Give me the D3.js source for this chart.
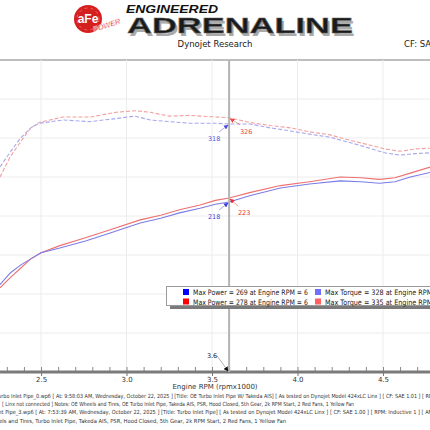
<!DOCTYPE html>
<html>
<head>
<meta charset="utf-8">
<script src="https://cdn.jsdelivr.net/npm/d3@7"></script>
<style>
  body { margin: 0; background: #fff; }
  svg { display: block; font-family: "DejaVu Sans", Verdana, sans-serif; }
</style>
</head>
<body>
<div id="chart"></div>
<script>
// ---- data ----
const powerRpm = [2.26, 2.32, 2.38, 2.44, 2.50, 2.61, 2.76, 2.90, 3.08, 3.20, 3.31, 3.43, 3.52, 3.60, 3.72, 3.90, 4.07, 4.25, 4.37, 4.48, 4.57, 4.66, 4.78];
const powerRed  = [108, 121, 133, 145, 153, 162, 172, 182, 195, 201, 208, 214, 220, 223, 230, 239, 244, 250, 249, 247, 249, 255, 263];
const powerBlue = [112, 127, 137, 145, 153, 159, 168, 178, 191, 197, 204, 210, 215, 218, 226, 236, 241, 245, 244, 242, 244, 250, 256];

const torqueRpm = [2.26, 2.32, 2.38, 2.44, 2.49, 2.63, 2.79, 2.94, 3.05, 3.14, 3.25, 3.37, 3.52, 3.60, 3.72, 3.84, 3.96, 4.07, 4.19, 4.31, 4.42, 4.51, 4.60, 4.69, 4.78];
const torqueRed  = [250, 276, 295, 313, 320, 327, 327, 333, 335, 333, 328, 329, 327, 326, 320, 316, 313, 308, 304, 297, 291, 286, 283, 286, 287];
const torqueBlue = [263, 282, 300, 313, 319, 323, 321, 325, 328, 323, 321, 319, 319, 318, 318, 313, 309, 305, 301, 294, 287, 281, 278, 280, 281];

const xTicks = [2.5, 3.0, 3.5, 4.0, 4.5];
const cursorRpm = 3.6;
const cursorValues = [
  { v: 218, c: "#4040e0", dx: -15, dy: 14 },
  { v: 223, c: "#e83030", dx: 15, dy: 14 },
  { v: 318, c: "#5050e0", dx: -15, dy: 14 },
  { v: 326, c: "#e84848", dx: 17, dy: 13 }
];
const legendRows = [
  ["Max Power = 269 at Engine RPM = 6", "Max Torque = 328 at Engine RPM = 3.0"],
  ["Max Power = 278 at Engine RPM = 6", "Max Torque = 335 at Engine RPM = 3.0"]
];
const legendColors = [["#0000ff", "#7070ff"], ["#ff0000", "#ff6060"]];
const notes = [
  "Turbo Inlet Pipe_0.wp6 [ At: 9:58:03 AM, Wednesday, October 22, 2025 ] [Title: OE Turbo Inlet Pipe W/ Takeda AIS]  [ As tested on Dynojet Model 424xLC Linx ] [ CF: SAE 1.01 ] [ RPM",
  "[ Linx not connected ] Notes: OE Wheels and Tires, OE Turbo Inlet Pipe, Takeda AIS, PSR, Hood Closed, 5th Gear, 2k RPM Start, 2 Red Fans, 1 Yellow Fan",
  "Turbo Inlet Pipe_3.wp6 [ At: 7:53:39 AM, Wednesday, October 22, 2025 ] [Title: Turbo Inlet Pipe]  [ As tested on Dynojet Model 424xLC Linx ] [ CF: SAE 1.00 ] [ RPM: Inductive 1 ] [ AFR",
  "Notes: OE Wheels and Tires, Turbo Inlet Pipe, Takeda AIS, PSR, Hood Closed, 5th Gear, 2k RPM Start, 2 Red Fans, 1 Yellow Fan"
];

const width = 430, height = 430;
const plotTop = 60, plotBottom = 372;

const svg = d3.select("#chart").append("svg")
  .attr("width", width).attr("height", height);

const x = d3.scaleLinear().domain([2.26, 4.775]).range([0, width]);
const y = d3.scaleLinear().domain([0, 400]).range([plotBottom, plotTop]);

// ---- header ----
const head = svg.append("g");
head.append("circle").attr("cx", 88).attr("cy", 19).attr("r", 14).attr("fill", "#d41f1f");
head.append("circle").attr("cx", 88).attr("cy", 19).attr("r", 11).attr("fill", "none")
  .attr("stroke", "#f26060").attr("stroke-width", 1).attr("stroke-dasharray", "3,3");
head.append("text").attr("x", 88).attr("y", 23).attr("text-anchor", "middle")
  .attr("font-family", "Liberation Sans, Arial").attr("font-weight", "bold").attr("font-size", 12)
  .attr("fill", "#fff").text("aFe");
head.append("text").attr("transform", "translate(94,32) rotate(-18)")
  .attr("font-family", "Liberation Sans, Arial").attr("font-weight", "bold").attr("font-style", "italic")
  .attr("font-size", 7.5).attr("fill", "#e02020").attr("stroke", "#fff").attr("stroke-width", 0.4)
  .text("POWER");
head.append("text").attr("x", 126).attr("y", 13)
  .attr("font-family", "Liberation Sans, Arial").attr("font-weight", "bold").attr("font-style", "italic")
  .attr("font-size", 10).attr("textLength", 92).attr("lengthAdjust", "spacingAndGlyphs")
  .attr("fill", "#111").text("ENGINEERED");
head.append("text").attr("x", 129).attr("y", 35.5)
  .attr("font-family", "Liberation Sans, Arial").attr("font-weight", "bold")
  .attr("font-size", 22).attr("textLength", 226).attr("lengthAdjust", "spacingAndGlyphs")
  .attr("fill", "#aaa").text("ADRENALINE");
head.append("text").attr("x", 127).attr("y", 33)
  .attr("font-family", "Liberation Sans, Arial").attr("font-weight", "bold")
  .attr("font-size", 22).attr("textLength", 226).attr("lengthAdjust", "spacingAndGlyphs")
  .attr("fill", "#1a1a1a").attr("stroke", "#666").attr("stroke-width", 0.5).text("ADRENALINE");

svg.append("text").attr("x", 215).attr("y", 47).attr("text-anchor", "middle")
  .attr("font-size", 8.5).attr("fill", "#222").text("Dynojet Research");
svg.append("text").attr("x", 404).attr("y", 47)
  .attr("font-size", 8.5).attr("fill", "#222").text("CF: SAE");

// ---- grid ----
svg.append("line").attr("x1", 0).attr("x2", width).attr("y1", plotTop).attr("y2", plotTop)
  .attr("stroke", "#a8a8a8").attr("stroke-width", 1.5);

svg.append("g").selectAll("line").data(d3.range(50, 400, 50)).join("line")
  .attr("x1", 0).attr("x2", width)
  .attr("y1", d => y(d)).attr("y2", d => y(d))
  .attr("stroke", "#ececec");

svg.append("g").selectAll("line").data(xTicks).join("line")
  .attr("x1", d => x(d)).attr("x2", d => x(d))
  .attr("y1", plotTop).attr("y2", plotBottom)
  .attr("stroke", "#ececec");

// ---- axis ----
const xAxisMinor = d3.axisTop(x)
  .tickValues(d3.range(23, 48).map(d => d / 10))
  .tickSize(5).tickFormat("");
svg.append("g").attr("transform", `translate(0,${plotBottom})`).call(xAxisMinor)
  .call(g => g.select(".domain").remove())
  .call(g => g.selectAll("line").attr("stroke", "#888"));

const xAxis = d3.axisBottom(x).tickValues(xTicks).tickSize(4).tickPadding(1).tickFormat(d3.format(".1f"));
svg.append("g").attr("transform", `translate(0,${plotBottom})`).call(xAxis)
  .call(g => g.select(".domain").remove())
  .call(g => g.selectAll("line").attr("stroke", "#777"))
  .call(g => g.selectAll("text").attr("font-size", 7).attr("fill", "#333")
    .attr("font-family", "DejaVu Sans"));

svg.append("line").attr("x1", 0).attr("x2", width).attr("y1", plotBottom).attr("y2", plotBottom)
  .attr("stroke", "#7a7a7a").attr("stroke-width", 3);

svg.append("text").attr("x", 215).attr("y", 389).attr("text-anchor", "middle")
  .attr("font-size", 7).attr("fill", "#333").text("Engine RPM (rpmx1000)");

// ---- curves ----
svg.append("clipPath").attr("id", "plotclip").append("rect")
  .attr("x", 0).attr("y", plotTop).attr("width", width).attr("height", plotBottom - plotTop);

const line = d3.line().x(d => x(d[0])).y(d => y(d[1]));
const series = [
  { rpm: torqueRpm, v: torqueRed, c: "#f2a0a0", dash: "4,2" },
  { rpm: torqueRpm, v: torqueBlue, c: "#a8a8ee", dash: "4,2" },
  { rpm: powerRpm, v: powerRed, c: "#ee7070", dash: null },
  { rpm: powerRpm, v: powerBlue, c: "#7c7ce8", dash: null }
];
svg.append("g").attr("clip-path", "url(#plotclip)")
  .selectAll("path").data(series).join("path")
  .attr("d", s => line(s.rpm.map((r, i) => [r, s.v[i]])))
  .attr("fill", "none").attr("stroke", s => s.c).attr("stroke-width", 1.1)
  .attr("stroke-dasharray", s => s.dash);

// ---- cursor ----
const cx = x(cursorRpm);
svg.append("line").attr("x1", cx).attr("x2", cx).attr("y1", plotTop).attr("y2", plotBottom)
  .attr("stroke", "#b4b4b4").attr("stroke-width", 2);

const defs = svg.append("defs");
function marker(id, color) {
  defs.append("marker").attr("id", id).attr("viewBox", "0 0 10 10")
    .attr("refX", 9).attr("refY", 5).attr("markerWidth", 6).attr("markerHeight", 6)
    .attr("orient", "auto")
    .append("path").attr("d", "M0,0L10,5L0,10z").attr("fill", color);
}
cursorValues.forEach((d, i) => marker("m" + i, d.c));
marker("mk", "#111");

const cg = svg.append("g");
cursorValues.forEach((d, i) => {
  const py = y(d.v);
  const lx = cx + d.dx, ly = py + d.dy;
  cg.append("line")
    .attr("x1", lx + (d.dx < 0 ? 5 : -6)).attr("y1", ly - 6)
    .attr("x2", cx - (d.dx < 0 ? 1 : -1)).attr("y2", py + 1)
    .attr("stroke", d.c).attr("stroke-opacity", 0.6).attr("stroke-width", 0.8)
    .attr("marker-end", `url(#m${i})`);
  cg.append("text").attr("x", lx).attr("y", ly + 3).attr("text-anchor", "middle")
    .attr("font-size", 6.5).attr("fill", d.c).text(d.v);
});

svg.append("line").attr("x1", cx - 12).attr("y1", plotBottom - 16)
  .attr("x2", cx - 1).attr("y2", plotBottom - 1)
  .attr("stroke", "#999").attr("stroke-width", 0.8).attr("marker-end", "url(#mk)");
svg.append("text").attr("x", cx - 17).attr("y", 358).attr("text-anchor", "middle")
  .attr("font-size", 6.5).attr("fill", "#222").text(cursorRpm.toFixed(1));

// ---- legend ----
const lg = svg.append("g").attr("transform", "translate(166,286)");
lg.append("rect").attr("x", 4).attr("y", 4).attr("width", 300).attr("height", 19).attr("fill", "#7a7a7a");
lg.append("rect").attr("x", 0.5).attr("y", 0.5).attr("width", 300).attr("height", 19)
  .attr("fill", "#fff").attr("stroke", "#9a9a9a");
legendRows.forEach((row, r) => {
  row.forEach((txt, c) => {
    const gx = c === 0 ? 21 : 153;
    lg.append("rect").attr("x", gx - 4).attr("y", 3 + r * 9.5).attr("width", 6).attr("height", 6)
      .attr("fill", legendColors[r][c]);
    lg.append("text").attr("x", gx + 6).attr("y", 9 + r * 9.5)
      .attr("font-size", 7.5).attr("fill", "#222")
      .attr("textLength", c === 0 ? 115 : 127).attr("lengthAdjust", "spacingAndGlyphs")
      .text(txt);
  });
});

// ---- run notes ----
const noteX = [-4, 2, -23, -40];
const noteLen = [440, 352, 458, 326];
svg.append("g").selectAll("text").data(notes).join("text")
  .attr("x", (d, i) => noteX[i])
  .attr("y", (d, i) => 398 + i * 8.2)
  .attr("font-size", 5.6).attr("fill", "#333")
  .attr("textLength", (d, i) => noteLen[i]).attr("lengthAdjust", "spacingAndGlyphs")
  .text(d => d);
</script>
</body>
</html>
